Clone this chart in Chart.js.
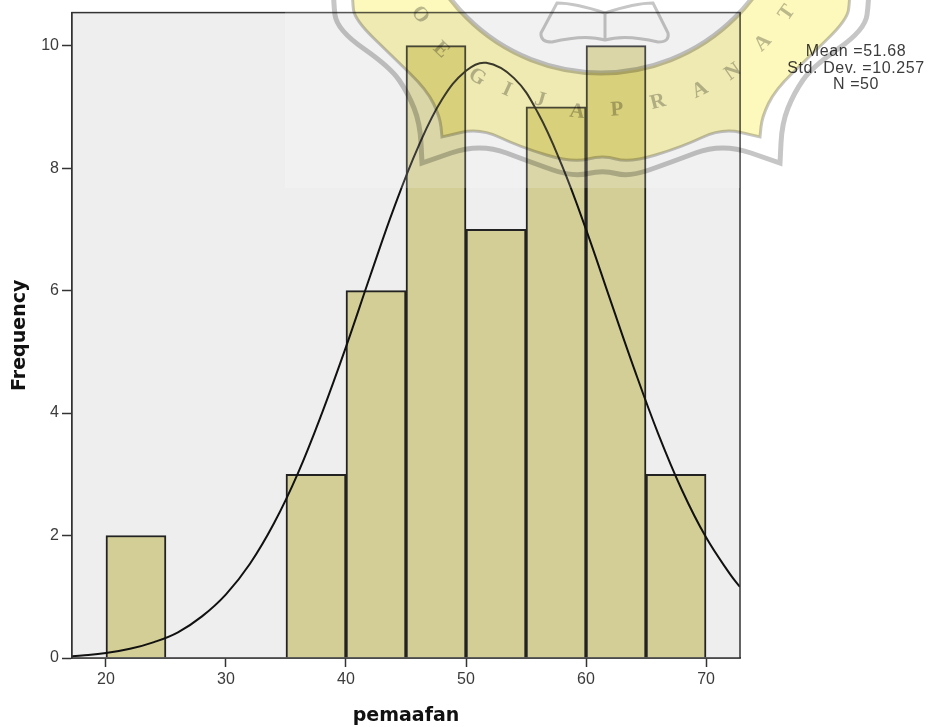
<!DOCTYPE html>
<html lang="en">
<head>
  <meta charset="UTF-8">
  <title>pemaafan histogram</title>
  <script src="https://cdn.jsdelivr.net/npm/chart.js@4/dist/chart.umd.min.js"></script>
  <style>
    body { margin: 0; background: #fff; }
    canvas { display: block; }
  </style>
</head>
<body>
  <canvas id="histChart" width="929" height="727"></canvas>
  <script>
    const binCenters = [22.5, 37.5, 42.5, 47.5, 52.5, 57.5, 62.5, 67.5];
    const frequencies = [2, 3, 6, 10, 7, 9, 10, 3];
    const curveX = [17.17, 18, 20, 22, 24, 26, 28, 30, 32, 34, 36, 38, 40, 42, 44, 46, 48, 50, 51.68, 54, 56, 58, 60, 62, 64, 66, 68, 70, 72, 72.83];
    const curveY = [0.03, 0.04, 0.08, 0.15, 0.26, 0.42, 0.68, 1.04, 1.54, 2.2, 3.02, 4.0, 5.08, 6.23, 7.35, 8.34, 9.12, 9.59, 9.72, 9.47, 8.9, 8.04, 7.0, 5.86, 4.73, 3.67, 2.74, 1.97, 1.37, 1.16];
    const xTickValues = [20, 30, 40, 50, 60, 70];
    const yTickValues = [0, 2, 4, 6, 8, 10];
    const statLines = ['Mean =51.68', 'Std. Dev. =10.257', 'N =50'];
    const sealLetters = [['O', 420, 15], ['E', 441, 50], ['G', 477, 77], ['I', 507, 90], ['J', 540, 100], ['A', 577, 112], ['P', 617, 110], ['R', 658, 102], ['A', 700, 90], ['N', 733, 72], ['A', 763, 43], ['T', 787, 13]];

    // watermark stamped over the page, left half of the seal, mirrored round x=601
    const sealOuter = [[333, -40], [333, 0], [337, 30], [390, 67], [408, 93], [420, 123], [422, 163], [422, 163], [480, 143], [533, 163], [573, 177], [603, 170]];
    const sealInner = [[352, -40], [352, 0], [355, 20], [393, 57], [427, 90], [440, 117], [442, 137], [442, 137], [480, 128], [520, 147], [573, 163], [603, 155]];

    function sealPath(ctx, half) {
      const pts = half.concat(half.slice(0, -1).reverse().map(p => [1202 - p[0], p[1]]));
      ctx.moveTo(pts[0][0], pts[0][1]);
      for (let i = 1; i < pts.length - 1; i++) {
        const mx = (pts[i][0] + pts[i + 1][0]) / 2, my = (pts[i][1] + pts[i + 1][1]) / 2;
        ctx.quadraticCurveTo(pts[i][0], pts[i][1], mx, my);
      }
      ctx.lineTo(pts[pts.length - 1][0], pts[pts.length - 1][1]);
    }

    const backdrop = {
      id: 'backdrop',
      beforeDatasetsDraw(chart) {
        const { ctx, chartArea: a } = chart;
        ctx.save();
        ctx.fillStyle = '#eeeeee';
        ctx.fillRect(a.left, a.top, a.right - a.left, a.bottom - a.top);
        ctx.restore();
      }
    };

    const stamp = {
      id: 'stamp',
      afterDraw(chart) {
        const { ctx, chartArea: a } = chart;
        ctx.save();
        // plot frame
        ctx.strokeStyle = '#333';
        ctx.lineWidth = 1.5;
        ctx.strokeRect(a.left, a.top, a.right - a.left, a.bottom - a.top);

        ctx.textAlign = 'center';
        ctx.textBaseline = 'middle';

        // stats box
        ctx.fillStyle = '#3c3c3c';
        ctx.font = '16px "Liberation Sans"';
        ctx.letterSpacing = '0.6px';
        statLines.forEach((s, i) => ctx.fillText(s, 856, 52 + i * 16.5));
        ctx.letterSpacing = '0px';

        // washed box from the watermark image
        ctx.fillStyle = 'rgba(255,255,255,0.17)';
        ctx.fillRect(285, 12, 455, 176);

        // seal
        ctx.globalCompositeOperation = 'multiply';
        ctx.beginPath();
        sealPath(ctx, sealInner);
        ctx.closePath();
        ctx.moveTo(601 + 190, -117);
        ctx.arc(601, -117, 190, 0, Math.PI * 2);
        ctx.fillStyle = '#fdf8bb';
        ctx.fill('evenodd');

        ctx.lineJoin = 'miter';
        ctx.strokeStyle = '#c6c6c6';
        ctx.lineWidth = 5;
        ctx.beginPath();
        sealPath(ctx, sealOuter);
        ctx.stroke();
        ctx.lineWidth = 3;
        ctx.beginPath();
        sealPath(ctx, sealInner);
        ctx.stroke();
        ctx.lineWidth = 5;
        ctx.beginPath();
        ctx.arc(601, -117, 190, 0, Math.PI * 2);
        ctx.stroke();

        // open book
        ctx.lineWidth = 3;
        ctx.beginPath();
        ctx.moveTo(605, 13); ctx.quadraticCurveTo(575, 3, 557, 3);
        ctx.lineTo(541, 33); ctx.quadraticCurveTo(540, 42, 552, 42);
        ctx.quadraticCurveTo(585, 34, 605, 40);
        ctx.quadraticCurveTo(625, 34, 658, 42);
        ctx.quadraticCurveTo(670, 42, 668, 33);
        ctx.lineTo(653, 3); ctx.quadraticCurveTo(635, 3, 605, 13);
        ctx.moveTo(605, 13); ctx.lineTo(605, 40);
        ctx.stroke();

        // seal lettering
        ctx.fillStyle = '#bdbdbd';
        ctx.font = 'bold 21px "Liberation Serif"';
        sealLetters.forEach(([ch, x, y]) => {
          ctx.save();
          ctx.translate(x, y);
          ctx.rotate(Math.atan2(601 - x, y + 117));
          ctx.fillText(ch, 0, 0);
          ctx.restore();
        });
        ctx.restore();
      }
    };

    new Chart(document.getElementById('histChart'), {
      data: {
        datasets: [
          {
            type: 'line',
            data: curveX.map((x, i) => ({ x: x, y: curveY[i] })),
            borderColor: '#111',
            borderWidth: 2,
            pointRadius: 0,
            tension: 0.4,
            order: 0
          },
          {
            type: 'bar',
            data: binCenters.map((x, i) => ({ x: x, y: frequencies[i] })),
            backgroundColor: '#d3ce96',
            borderColor: '#222',
            borderWidth: 2,
            barPercentage: 1,
            categoryPercentage: 1,
            order: 1
          }
        ]
      },
      options: {
        responsive: false,
        animation: false,
        layout: { padding: { top: 12, right: 189, left: 0, bottom: 0 } },
        plugins: { legend: { display: false }, tooltip: { enabled: false } },
        scales: {
          x: {
            type: 'linear',
            min: 17.17,
            max: 72.83,
            offset: false,
            afterBuildTicks: s => { s.ticks = xTickValues.map(v => ({ value: v })); },
            afterFit: s => { s.height = 69; },
            grid: { offset: false, drawOnChartArea: false, tickLength: 9, tickColor: '#333', tickWidth: 1.5 },
            border: { color: '#333', width: 1.5 },
            ticks: { color: '#3c3c3c', font: { family: '"Liberation Sans"', size: 16 }, padding: 3, maxRotation: 0 },
            title: { display: true, text: 'pemaafan', color: '#111', font: { family: '"DejaVu Sans"', weight: 'bold', size: 19 }, padding: 0 }
          },
          y: {
            min: 0,
            max: 10.54,
            afterBuildTicks: s => { s.ticks = yTickValues.map(v => ({ value: v })); },
            afterFit: s => { s.width = 72; },
            grid: { drawOnChartArea: false, tickLength: 10, tickColor: '#333', tickWidth: 1.5 },
            border: { color: '#333', width: 1.5 },
            ticks: { color: '#3c3c3c', font: { family: '"Liberation Sans"', size: 16 }, padding: 3 },
            title: { display: true, text: 'Frequency', color: '#111', font: { family: '"DejaVu Sans"', weight: 'bold', size: 19 }, padding: { top: 9, bottom: 0 } }
          }
        }
      },
      plugins: [backdrop, stamp]
    });
  </script>
</body>
</html>
